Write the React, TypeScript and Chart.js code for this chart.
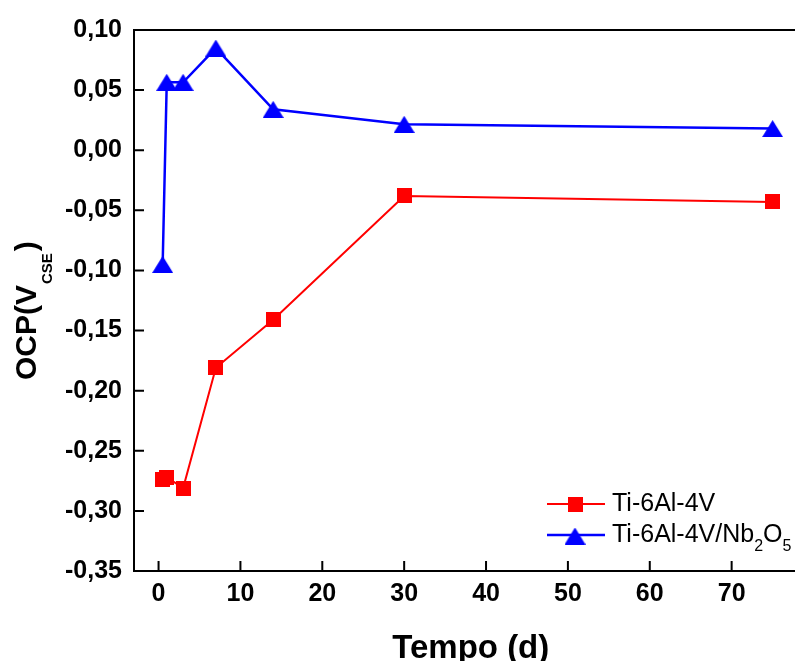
import React, { useEffect, useRef } from "react";
import { Chart, registerables } from "chart.js";

Chart.register(...registerables);

const days = [0.5, 1, 3, 7, 14, 30, 75];
const ti64V = [-0.274, -0.272, -0.281, -0.181, -0.141, -0.038, -0.043];
const ti64VNb2O5 = [-0.095, 0.0565, 0.0565, 0.085, 0.034, 0.0216, 0.018];
const xTicks = [0, 10, 20, 30, 40, 50, 60, 70];
const yTicks = [-0.35, -0.3, -0.25, -0.2, -0.15, -0.1, -0.05, 0, 0.05, 0.1];

const RED = "#ff0000";
const BLUE = "#0000ff";
const FONT = "'Liberation Sans', Arial, sans-serif";

function makeSquare(size: number, color: string) {
  const c = document.createElement("canvas");
  c.width = size;
  c.height = size;
  const g = c.getContext("2d")!;
  g.fillStyle = color;
  g.fillRect(0, 0, size, size);
  return c;
}

function makeTriangle(w: number, h: number, color: string) {
  const c = document.createElement("canvas");
  c.width = w;
  c.height = h;
  const g = c.getContext("2d")!;
  g.fillStyle = color;
  g.beginPath();
  g.moveTo(w / 2, 0);
  g.lineTo(w, h);
  g.lineTo(0, h);
  g.closePath();
  g.fill();
  return c;
}

function fmt(v: number) {
  if (Math.abs(v) < 1e-9) return "0,00";
  return v.toFixed(2).replace(".", ",");
}

const CW = 808;

export default function App() {
  const ref = useRef<HTMLCanvasElement>(null);

  useEffect(() => {
    const canvas = ref.current!;
    const sq = makeSquare(15, RED);
    const tri = makeTriangle(21, 17, BLUE);

    const decor = {
      id: "decor",
      afterDraw(chart: any) {
        const ctx = chart.ctx;
        const { left, right, top, bottom } = chart.chartArea;
        const xs = chart.scales.x;
        const ys = chart.scales.y;
        const edge = 795;
        ctx.save();
        ctx.strokeStyle = "#000";
        ctx.lineWidth = 2;
        ctx.beginPath();
        ctx.moveTo(left, top);
        ctx.lineTo(Math.max(right, edge), top);
        ctx.moveTo(left, top - 1);
        ctx.lineTo(left, bottom + 1);
        ctx.moveTo(left - 1, bottom);
        ctx.lineTo(Math.max(right, edge), bottom);
        xTicks.forEach((v) => {
          const px = xs.getPixelForValue(v);
          ctx.moveTo(px, bottom);
          ctx.lineTo(px, bottom - 10);
        });
        yTicks.forEach((v) => {
          const py = ys.getPixelForValue(v);
          ctx.moveTo(left, py);
          ctx.lineTo(left + 10, py);
        });
        ctx.stroke();

        // axis titles
        ctx.fillStyle = "#000";
        ctx.textBaseline = "alphabetic";
        ctx.textAlign = "center";
        ctx.font = `bold 33px ${FONT}`;
        ctx.fillText("Tempo (d)", (left + right) / 2 + 6, 658);

        ctx.save();
        ctx.translate(36, 380);
        ctx.rotate(-Math.PI / 2);
        ctx.textAlign = "left";
        ctx.font = `bold 30px ${FONT}`;
        let x = 0;
        ctx.fillText("OCP(V", x, 0);
        x += ctx.measureText("OCP(V").width;
        ctx.font = `bold 15px ${FONT}`;
        ctx.fillText("CSE", x + 1, 16);
        x += ctx.measureText("CSE").width + 3;
        ctx.font = `bold 30px ${FONT}`;
        ctx.fillText(")", x, 0);
        ctx.restore();

        // legend
        const lx0 = 547;
        const lx1 = 605;
        const mx = 575;
        ctx.strokeStyle = RED;
        ctx.lineWidth = 2;
        ctx.beginPath();
        ctx.moveTo(lx0, 504);
        ctx.lineTo(lx1, 504);
        ctx.stroke();
        ctx.drawImage(sq, mx - 7.5, 504 - 7.5);
        ctx.strokeStyle = BLUE;
        ctx.lineWidth = 2.5;
        ctx.beginPath();
        ctx.moveTo(lx0, 535);
        ctx.lineTo(lx1, 535);
        ctx.stroke();
        ctx.drawImage(tri, mx - 10.5, 536 - 8.5);

        ctx.fillStyle = "#000";
        ctx.textAlign = "left";
        ctx.font = `25px ${FONT}`;
        ctx.fillText("Ti-6Al-4V", 612, 511);
        let tx = 612;
        const parts: [string, boolean][] = [
          ["Ti-6Al-4V/Nb", false],
          ["2", true],
          ["O", false],
          ["5", true],
        ];
        parts.forEach(([s, sub]) => {
          ctx.font = sub ? `16px ${FONT}` : `25px ${FONT}`;
          ctx.fillText(s, tx, sub ? 551 : 542);
          tx += ctx.measureText(s).width;
        });
        ctx.restore();
      },
    };

    const chart = new Chart(canvas, {
      type: "line",
      data: {
        datasets: [
          {
            label: "Ti-6Al-4V",
            data: days.map((d, i) => ({ x: d, y: ti64V[i] })),
            borderColor: RED,
            backgroundColor: RED,
            borderWidth: 2,
            pointStyle: sq as any,
            pointRadius: 8,
            tension: 0,
          },
          {
            label: "Ti-6Al-4V/Nb2O5",
            data: days.map((d, i) => ({ x: d, y: ti64VNb2O5[i] })),
            borderColor: BLUE,
            backgroundColor: BLUE,
            borderWidth: 2.5,
            pointStyle: tri as any,
            pointRadius: 10,
            tension: 0,
          },
        ],
      },
      options: {
        responsive: false,
        animation: false,
        events: [],
        layout: { padding: { top: 30, left: 0, right: 0, bottom: 0 } },
        plugins: {
          legend: { display: false },
          tooltip: { enabled: false },
          title: { display: false },
        },
        scales: {
          x: {
            type: "linear",
            min: -3,
            max: 77.8,
            grid: { display: false, drawTicks: false },
            border: { display: false },
            afterBuildTicks: (s: any) => {
              s.ticks = xTicks.map((v) => ({ value: v }));
            },
            afterFit: (s: any) => {
              s.height = 90;
            },
            ticks: {
              padding: 8,
              maxRotation: 0,
              minRotation: 0,
              color: "#000",
              font: { family: FONT, size: 25, weight: "bold" },
              callback: (v: any) => String(v),
            },
          },
          y: {
            type: "linear",
            min: -0.35,
            max: 0.1,
            grid: { display: false, drawTicks: false },
            border: { display: false },
            afterBuildTicks: (s: any) => {
              s.ticks = yTicks.map((v) => ({ value: v }));
            },
            afterFit: (s: any) => {
              s.width = 134;
            },
            ticks: {
              padding: 12,
              color: "#000",
              font: { family: FONT, size: 25, weight: "bold" },
              callback: (v: any) => fmt(Number(v)),
            },
          },
        },
      },
      plugins: [decor],
    });
    return () => chart.destroy();
  }, []);

  return (
    <div style={{ position: "absolute", left: 0, top: 0, width: 795, height: 661, overflow: "hidden", background: "#fff" }}>
      <canvas ref={ref} width={CW} height={661} style={{ width: CW, height: 661, display: "block" }} />
    </div>
  );
}
